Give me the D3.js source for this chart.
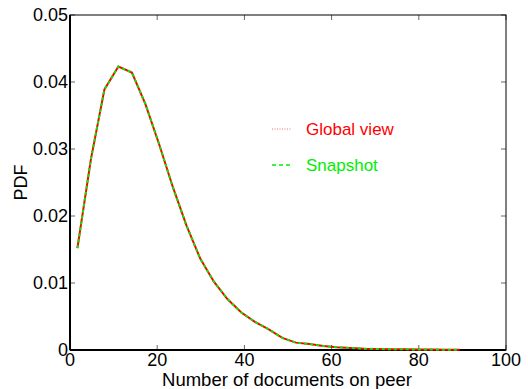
<!DOCTYPE html>
<html>
<head>
<meta charset="utf-8">
<script src="https://cdn.jsdelivr.net/npm/d3@7"></script>
<style>
  body { margin: 0; background: #fff; }
  text { font-family: "Liberation Sans", Arial, sans-serif; }
</style>
</head>
<body>
<svg></svg>
<script>
// bin centres (number of documents) and PDF values
var docs = [1.7, 4.8, 7.9, 11.1, 14.2, 17.3, 20.5, 23.6, 26.7, 29.9, 33.0, 36.1, 39.3, 42.4, 45.5,
            48.7, 51.8, 54.9, 58.1, 61.2, 64.3, 67.5, 70.6, 73.7, 76.9, 80.0, 83.1, 86.3, 89.4];
var globalView = [0.0152, 0.0285, 0.0389, 0.0423, 0.0414, 0.0367, 0.0306, 0.0243, 0.0186, 0.0136,
                  0.0102, 0.0076, 0.0056, 0.0042, 0.0031, 0.0018, 0.0011, 0.0009, 0.0006, 0.0004,
                  0.0003, 0.0002, 0.00015, 0.0001, 0.0001, 0.00008, 0.00006, 0.00005, 0.00004];
var snapshot = [0.0152, 0.0285, 0.0389, 0.0423, 0.0414, 0.0367, 0.0306, 0.0243, 0.0186, 0.0136,
                0.0102, 0.0076, 0.0056, 0.0042, 0.0031, 0.0018, 0.0011, 0.0009, 0.0006, 0.0004,
                0.0003, 0.0002, 0.00015, 0.0001, 0.0001, 0.00008, 0.00006, 0.00005, 0.00004];
var xTicks = [0, 20, 40, 60, 80, 100];
var yTicks = [0, 0.01, 0.02, 0.03, 0.04, 0.05];

var width = 528, height = 389;
var svg = d3.select("svg").attr("width", width).attr("height", height);

var pLeft = 70, pRight = 506, pTop = 15, pBottom = 350;

var x = d3.scaleLinear().domain([0, 100]).range([pLeft, pRight]);
var y = d3.scaleLinear().domain([0, 0.05]).range([pBottom, pTop]);

// ticks (inward, on all four sides)
var g = svg.append("g");
xTicks.forEach(function(t) {
    g.append("line").attr("x1", x(t)).attr("x2", x(t)).attr("y1", pBottom).attr("y2", pBottom - 5)
        .attr("stroke", "#666").attr("stroke-width", 1);
    g.append("line").attr("x1", x(t)).attr("x2", x(t)).attr("y1", pTop).attr("y2", pTop + 5)
        .attr("stroke", "#666").attr("stroke-width", 1);
    g.append("text").attr("x", x(t)).attr("y", 366).attr("text-anchor", "middle")
        .attr("font-size", 18).text(t);
});
yTicks.forEach(function(t) {
    g.append("line").attr("x1", pLeft).attr("x2", pLeft + 5).attr("y1", y(t)).attr("y2", y(t))
        .attr("stroke", "#666").attr("stroke-width", 1);
    g.append("line").attr("x1", pRight).attr("x2", pRight - 5).attr("y1", y(t)).attr("y2", y(t))
        .attr("stroke", "#666").attr("stroke-width", 1);
    g.append("text").attr("x", pLeft - 2).attr("y", y(t) + 6).attr("text-anchor", "end")
        .attr("font-size", 18).text(t === 0 ? "0" : d3.format(".2f")(t));
});

// frame
svg.append("rect").attr("x", pLeft).attr("y", pTop).attr("width", pRight - pLeft).attr("height", pBottom - pTop)
    .attr("fill", "none").attr("stroke", "#000").attr("stroke-width", 1);
svg.append("line").attr("x1", pLeft).attr("x2", pLeft).attr("y1", pTop).attr("y2", pBottom)
    .attr("stroke", "#000").attr("stroke-width", 2);
svg.append("line").attr("x1", pLeft).attr("x2", pRight).attr("y1", pBottom).attr("y2", pBottom)
    .attr("stroke", "#000").attr("stroke-width", 2);

var line = d3.line().x(function(d) { return x(d[0]); }).y(function(d) { return y(d[1]); });

svg.append("path").datum(d3.zip(docs, globalView)).attr("d", line)
    .attr("fill", "none").attr("stroke", "#ff0000").attr("stroke-width", 2);
svg.append("path").datum(d3.zip(docs, snapshot)).attr("d", line)
    .attr("fill", "none").attr("stroke", "#00ee00").attr("stroke-width", 2)
    .attr("stroke-dasharray", "3,3");

// legend
svg.append("line").attr("x1", 272).attr("x2", 292).attr("y1", 129).attr("y2", 129)
    .attr("stroke", "#ff6666").attr("stroke-width", 1).attr("stroke-dasharray", "1,1.5");
svg.append("text").attr("x", 306).attr("y", 135).attr("font-size", 17).attr("fill", "#ff0000").text("Global view");
svg.append("line").attr("x1", 272).attr("x2", 292).attr("y1", 165).attr("y2", 165)
    .attr("stroke", "#00ee00").attr("stroke-width", 1.5).attr("stroke-dasharray", "4,3");
svg.append("text").attr("x", 306).attr("y", 171).attr("font-size", 17).attr("fill", "#00ee00").text("Snapshot");

// axis labels
svg.append("text").attr("x", 287).attr("y", 386).attr("text-anchor", "middle")
    .attr("font-size", 18.5).text("Number of documents on peer");
svg.append("text").attr("transform", "translate(27," + y(0.025) + ") rotate(-90)")
    .attr("text-anchor", "middle").attr("font-size", 18).text("PDF");
</script>
</body>
</html>
